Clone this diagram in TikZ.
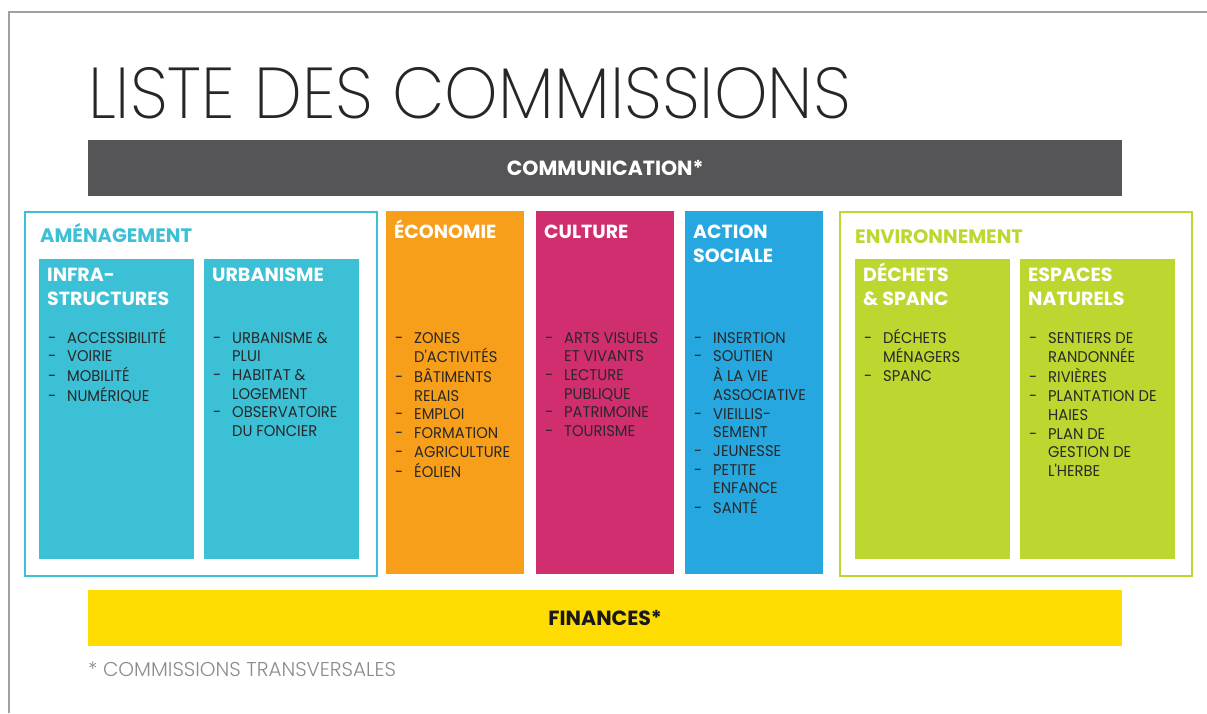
\documentclass[tikz,border=0pt]{standalone}
\usepackage{fontspec}
\setmainfont{Poppins}
\newfontfamily\titlefont{Poppins ExtraLight}[FakeStretch=0.945]
\newfontfamily\headfont{Poppins}
\newfontfamily\itemfont{Poppins}[FakeStretch=0.95]
\newfontfamily\notefont{Poppins Light}
\usepackage{xcolor}
\usetikzlibrary{positioning}

\definecolor{amcyan}{RGB}{59,192,214}
\definecolor{ecoorange}{RGB}{247,158,27}
\definecolor{culmagenta}{RGB}{208,46,110}
\definecolor{socblue}{RGB}{38,167,223}
\definecolor{envlime}{RGB}{190,215,48}
\definecolor{finyellow}{RGB}{255,221,0}
\definecolor{combar}{RGB}{85,85,87}
\definecolor{itemtext}{RGB}{40,40,40}
\definecolor{pagegray}{RGB}{160,160,160}

\newcommand{\itemlist}[1]{\begin{tabular}[t]{@{}p{19pt}@{}l@{}}#1\end{tabular}}

\begin{document}
\begin{tikzpicture}[x=1pt, y=-1pt,
  groupbox/.style={draw=#1, line width=2pt, anchor=north west, inner sep=0pt,
                   minimum width=352pt, minimum height=364pt},
  colbox/.style={fill=#1, anchor=north west, inner sep=0pt,
                 minimum width=138pt, minimum height=363pt},
  subbox/.style={fill=#1, anchor=north west, inner sep=0pt,
                 minimum width=155pt, minimum height=300pt},
  grouplabel/.style={anchor=base west, inner sep=0pt, text=#1,
                     font=\headfont\bfseries\fontsize{19.5}{24}\selectfont},
  head/.style={anchor=base west, inner sep=0pt, align=left, text=white,
               font=\headfont\bfseries\fontsize{19}{24}\selectfont},
  items/.style={anchor=base west, inner sep=0pt, text=itemtext,
                font=\itemfont\fontsize{15.5}{18.7}\selectfont},
  bar/.style={fill=#1, anchor=north west, inner sep=0pt, minimum width=1034pt,
              minimum height=56pt, font=\headfont\bfseries\fontsize{20.5}{24}\selectfont}
]
  \useasboundingbox (0,0) rectangle (1207,713);
  % page edge
  \draw[pagegray, line width=1.5pt] (9,713) -- (9,12) -- (1207,12);

  \node[anchor=base west, inner sep=0pt, text=black!85,
        font=\titlefont\fontsize{72}{80}\selectfont] (title) at (88,118)
    {LISTE DES COMMISSIONS};

  % transversal bars
  \node[bar=combar, text=white] (comm) at (88,140) {COMMUNICATION*};
  \node[bar=finyellow, text=black!90] (fin) at (88,590) {FINANCES*};
  \node[anchor=base west, inner sep=0pt, text=black!45,
        font=\notefont\fontsize{20}{22}\selectfont] (note) at (88,676)
    {* COMMISSIONS TRANSVERSALES};

  % amenagement
  \node[groupbox=amcyan] (amenag) at (24,211) {};
  \node[grouplabel=amcyan] (amlab) at (40,242) {AMÉNAGEMENT};
  \node[subbox=amcyan] (infra) at (39,259) {};
  \node[subbox=amcyan] (urba) at (204,259) {};
  \node[head] (infrahd) at (47,305) {INFRA-\\STRUCTURES};
  \node[head] (urbahd) at (212,281) {URBANISME};
  \node[items] (infralst) at (48,343) {\itemlist{
    - & ACCESSIBILITÉ\\ - & VOIRIE\\ - & MOBILITÉ\\ - & NUMÉRIQUE}};
  \node[items] (urbalst) at (213,343) {\itemlist{
    - & URBANISME \&\\ & PLUI\\ - & HABITAT \&\\ & LOGEMENT\\
    - & OBSERVATOIRE\\ & DU FONCIER}};

  % single columns
  \node[colbox=ecoorange] (eco) at (386,211) {};
  \node[colbox=culmagenta] (cult) at (536,211) {};
  \node[colbox=socblue] (soc) at (685,211) {};
  \node[head] (ecohd) at (394,238) {ÉCONOMIE};
  \node[head] (culthd) at (544,238) {CULTURE};
  \node[head] (sochd) at (693,262) {ACTION\\SOCIALE};
  \node[items] (ecolst) at (395,343) {\itemlist{
    - & ZONES\\ & D'ACTIVITÉS\\ - & BÂTIMENTS\\ & RELAIS\\ - & EMPLOI\\
    - & FORMATION\\ - & AGRICULTURE\\ - & ÉOLIEN}};
  \node[items] (cultlst) at (545,343) {\itemlist{
    - & ARTS VISUELS\\ & ET VIVANTS\\ - & LECTURE\\ & PUBLIQUE\\
    - & PATRIMOINE\\ - & TOURISME}};
  \node[items] (soclst) at (694,343) {\itemlist{
    - & INSERTION\\ - & SOUTIEN\\ & À LA VIE\\ & ASSOCIATIVE\\
    - & VIEILLIS-\\ & SEMENT\\ - & JEUNESSE\\ - & PETITE\\ & ENFANCE\\
    - & SANTÉ}};

  % environnement
  \node[groupbox=envlime] (envir) at (839,211) {};
  \node[grouplabel=envlime] (envlab) at (855,243) {ENVIRONNEMENT};
  \node[subbox=envlime] (dech) at (855,259) {};
  \node[subbox=envlime] (espa) at (1020,259) {};
  \node[head] (dechhd) at (863,305) {DÉCHETS\\\& SPANC};
  \node[head] (espahd) at (1028,305) {ESPACES\\NATURELS};
  \node[items] (dechlst) at (864,343) {\itemlist{
    - & DÉCHETS\\ & MÉNAGERS\\ - & SPANC}};
  \node[items] (espalst) at (1029,343) {\itemlist{
    - & SENTIERS DE\\ & RANDONNÉE\\ - & RIVIÈRES\\ - & PLANTATION DE\\
    & HAIES\\ - & PLAN DE\\ & GESTION DE\\ & L'HERBE}};
\end{tikzpicture}
\end{document}
